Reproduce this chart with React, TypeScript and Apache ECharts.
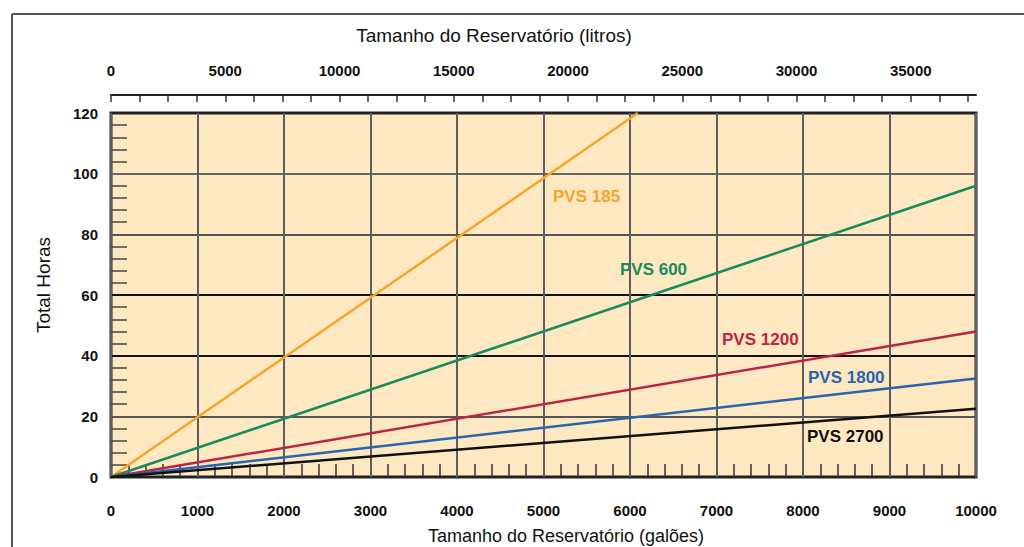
import React, { useEffect, useRef } from "react";
import * as echarts from "echarts";

const seriesNames = ["PVS 185", "PVS 600", "PVS 1200", "PVS 1800", "PVS 2700"];
const seriesColors = ["#F6A42A", "#1A8A5F", "#B82645", "#2A63AE", "#111111"];
// each line runs from the origin to its end point (gallons, hours)
const endGallons = [6090, 10000, 10000, 10000, 10000];
const endHours = [120, 96, 48, 32.5, 22.5];
// label anchor points (gallons, hours)
const labelGallons = [5110, 5884, 7064, 8058, 8046];
const labelHours = [92.6, 68.4, 45.3, 32.7, 13.2];

const gallonTicks = [0, 1000, 2000, 3000, 4000, 5000, 6000, 7000, 8000, 9000, 10000];
const literTickLabels = [0, 5000, 10000, 15000, 20000, 25000, 30000, 35000];
const hourTicks = [0, 20, 40, 60, 80, 100, 120];

const LITERS_PER_GALLON = 3.785411784;
const FONT = "'Liberation Sans', Arial, Helvetica, sans-serif";

export default function App() {
  const ref = useRef<HTMLDivElement>(null);
  useEffect(() => {
    if (!ref.current) return;
    const chart = echarts.init(ref.current, null, { renderer: "svg" });
    const gMax = gallonTicks[gallonTicks.length - 1];
    const hMax = hourTicks[hourTicks.length - 1];
    const tickFont = { fontSize: 15, fontWeight: "bold", color: "#111", fontFamily: FONT };
    chart.setOption({
      animation: false,
      grid: {
        left: 111,
        right: 48,
        top: 113,
        bottom: 70,
        show: true,
        backgroundColor: "#FDE8C2",
        borderColor: "#222",
        borderWidth: 3,
        z: 0,
      },
      xAxis: [
        {
          type: "value",
          min: 0,
          max: gMax,
          interval: 1000,
          position: "bottom",
          axisLine: { show: false },
          axisTick: { show: false, inside: true },
          minorTick: { show: true, splitNumber: 5, length: 13, lineStyle: { color: "#333", width: 1.5 } },
          splitLine: { show: true, lineStyle: { color: "#5e5e5e", width: 2 } },
          axisLabel: {
            margin: 26,
            ...tickFont,
            formatter: (v: number) => (gallonTicks.includes(v) ? String(v) : ""),
          },
        },
        {
          type: "value",
          min: 0,
          max: gMax * LITERS_PER_GALLON,
          interval: 1250,
          position: "top",
          offset: 18,
          axisLine: { show: true, lineStyle: { color: "#222", width: 2 } },
          axisTick: { show: true, inside: true, length: 7, lineStyle: { color: "#333", width: 1.5 } },
          splitLine: { show: false },
          axisLabel: {
            margin: 17,
            ...tickFont,
            showMaxLabel: false,
            formatter: (v: number) => (literTickLabels.includes(v) ? String(v) : ""),
          },
        },
      ],
      yAxis: {
        type: "value",
        min: 0,
        max: hMax,
        interval: 20,
        axisLine: { show: false },
        axisTick: { show: false, inside: true },
        minorTick: { show: true, splitNumber: 5, length: 16, lineStyle: { color: "#444", width: 1.5 } },
        splitLine: {
          show: true,
          lineStyle: { color: ["#222", "#555", "#111", "#111", "#555", "#666", "#222"], width: 2 },
        },
        axisLabel: {
          margin: 13,
          ...tickFont,
          formatter: (v: number) => (hourTicks.includes(v) ? String(v) : ""),
        },
      },
      graphic: [
        {
          type: "line",
          shape: { x1: 12, y1: 14, x2: 1024, y2: 14 },
          style: { stroke: "#555", lineWidth: 2 },
        },
        {
          type: "line",
          shape: { x1: 12, y1: 14, x2: 12, y2: 547 },
          style: { stroke: "#555", lineWidth: 2 },
        },
        {
          type: "text",
          x: 494,
          y: 35,
          style: {
            text: "Tamanho do Reservatório (litros)",
            fontSize: 19,
            fontFamily: FONT,
            fill: "#111",
            align: "center",
            verticalAlign: "middle",
          },
        },
        {
          type: "text",
          x: 566,
          y: 536,
          style: {
            text: "Tamanho do Reservatório (galões)",
            fontSize: 18,
            fontFamily: FONT,
            fill: "#111",
            align: "center",
            verticalAlign: "middle",
          },
        },
        {
          type: "text",
          x: 43,
          y: 285,
          rotation: Math.PI / 2,
          style: {
            text: "Total Horas",
            fontSize: 19,
            fontFamily: FONT,
            fill: "#111",
            align: "center",
            verticalAlign: "middle",
          },
        },
      ],
      series: seriesNames.map((name, i) => ({
        name,
        type: "line",
        xAxisIndex: 0,
        yAxisIndex: 0,
        symbol: "none",
        z: 3,
        lineStyle: { color: seriesColors[i], width: 2.5 },
        data: [
          [0, 0],
          [endGallons[i], endHours[i]],
        ],
        markPoint: {
          symbol: "circle",
          symbolSize: 0,
          silent: true,
          data: [
            {
              coord: [labelGallons[i], labelHours[i]],
              label: {
                show: true,
                position: [0, 0],
                formatter: name,
                align: "left",
                verticalAlign: "middle",
                fontSize: 17,
                fontWeight: "bold",
                fontFamily: FONT,
                color: seriesColors[i],
              },
            },
          ],
        },
      })),
    });
    return () => chart.dispose();
  }, []);
  return (
    <div
      ref={ref}
      style={{ position: "absolute", left: 0, top: 0, width: 1024, height: 547, background: "#fff" }}
    />
  );
}
